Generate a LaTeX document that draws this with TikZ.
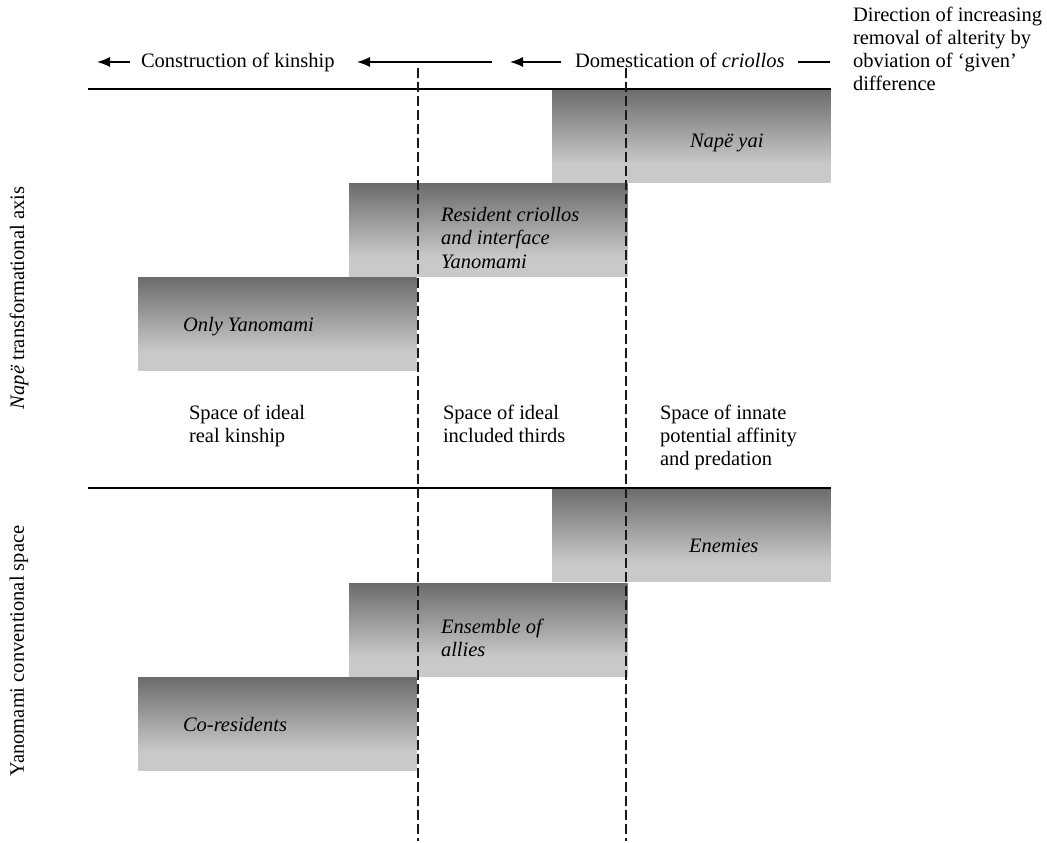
\documentclass[tikz,border=0pt]{standalone}
\usepackage{fontspec}
\setmainfont{Liberation Serif}
\usetikzlibrary{arrows.meta}
\definecolor{boxtop}{RGB}{107,107,107}
\definecolor{boxbot}{RGB}{201,201,201}
% vertical grey ramp: flat light band at the bottom, darker towards the top
\pgfdeclareverticalshading{boxshade}{100bp}{color(0bp)=(boxbot); color(35bp)=(boxbot); color(75bp)=(boxtop); color(100bp)=(boxtop)}
\tikzset{
  band/.style={shade, shading=boxshade, draw=none, inner sep=0pt, outer sep=0pt,
    anchor=north west, minimum width=278.5pt, minimum height=93.5pt},
  lbl/.style={anchor=base west, inner sep=0pt, outer sep=0pt},
  ilbl/.style={lbl, font=\fontsize{20.5}{23}\selectfont\itshape},
  rule/.style={line width=1.4pt, black},
  divider/.style={line width=1.3pt, black!90, dash pattern=on 10pt off 4pt},
  leftarrow/.style={line width=1.3pt, -{Latex[length=13pt,width=10pt]}},
  axislbl/.style={rotate=90, anchor=center, inner sep=0pt}
}
\begin{document}
\begin{tikzpicture}[x=1pt, y=-1pt, font=\fontsize{20.5}{23}\selectfont]
\useasboundingbox (0,0) rectangle (1047,843);

% shaded bands, upper (Nape) axis
\node[band] (napeyai) at (552,89) {};
\node[band] (resident) at (349,183) {};
\node[band] (onlyyan) at (138,277) {};
% shaded bands, lower (conventional) space
\node[band] (enemies) at (552,488) {};
\node[band] (allies) at (349,583) {};
\node[band] (coresid) at (138,677) {};

% horizontal rules
\coordinate (r1a) at (88,89);  \coordinate (r1b) at (831,89);
\coordinate (r2a) at (88,488); \coordinate (r2b) at (831,488);
\draw[rule] (r1a) -- (r1b);
\draw[rule] (r2a) -- (r2b);

% vertical dashed dividers
\coordinate (d1a) at (418,68); \coordinate (d1b) at (418,841);
\coordinate (d2a) at (626,68); \coordinate (d2b) at (626,841);
\draw[divider] (d1a) -- (d1b);
\draw[divider] (d2a) -- (d2b);

% top row of arrows and headings
\coordinate (a1s) at (130,62); \coordinate (a1e) at (97,62);
\coordinate (a2s) at (492,62); \coordinate (a2e) at (357,62);
\coordinate (a3s) at (561,62); \coordinate (a3e) at (510,62);
\coordinate (a4s) at (798,62); \coordinate (a4e) at (830,62);
\draw[leftarrow] (a1s) -- (a1e);
\draw[leftarrow] (a2s) -- (a2e);
\draw[leftarrow] (a3s) -- (a3e);
\draw[line width=1.3pt] (a4s) -- (a4e);
\node[lbl] (kinship) at (141,68) {Construction of kinship};
\node[lbl] (domest) at (575,68) {Domestication of \textit{criollos}};

\node[lbl] (dir1) at (853,22) {Direction of increasing};
\node[lbl] (dir2) at (853,45) {removal of alterity by};
\node[lbl] (dir3) at (853,68) {obviation of `given'};
\node[lbl] (dir4) at (853,91) {difference};

% band labels
\node[ilbl] (t-nape) at (690,147) {Napë yai};
\node[ilbl] (t-res1) at (441,221) {Resident criollos};
\node[ilbl] (t-res2) at (441,244) {and interface};
\node[ilbl] (t-res3) at (441,268) {Yanomami};
\node[ilbl] (t-only) at (183,331) {Only Yanomami};
\node[ilbl] (t-enem) at (689,552) {Enemies};
\node[ilbl] (t-all1) at (441,633) {Ensemble of};
\node[ilbl] (t-all2) at (441,656) {allies};
\node[ilbl] (t-cores) at (183,731) {Co-residents};

% the three spaces
\node[lbl] (s1a) at (189,419) {Space of ideal};
\node[lbl] (s1b) at (189,442) {real kinship};
\node[lbl] (s2a) at (443,419) {Space of ideal};
\node[lbl] (s2b) at (443,442) {included thirds};
\node[lbl] (s3a) at (660,419) {Space of innate};
\node[lbl] (s3b) at (660,442) {potential affinity};
\node[lbl] (s3c) at (660,465) {and predation};

% axis captions
\node[axislbl] (axisnape) at (19,298) {\textit{Napë} transformational axis};
\node[axislbl] (axisyan) at (19,651) {Yanomami conventional space};
\end{tikzpicture}
\end{document}
